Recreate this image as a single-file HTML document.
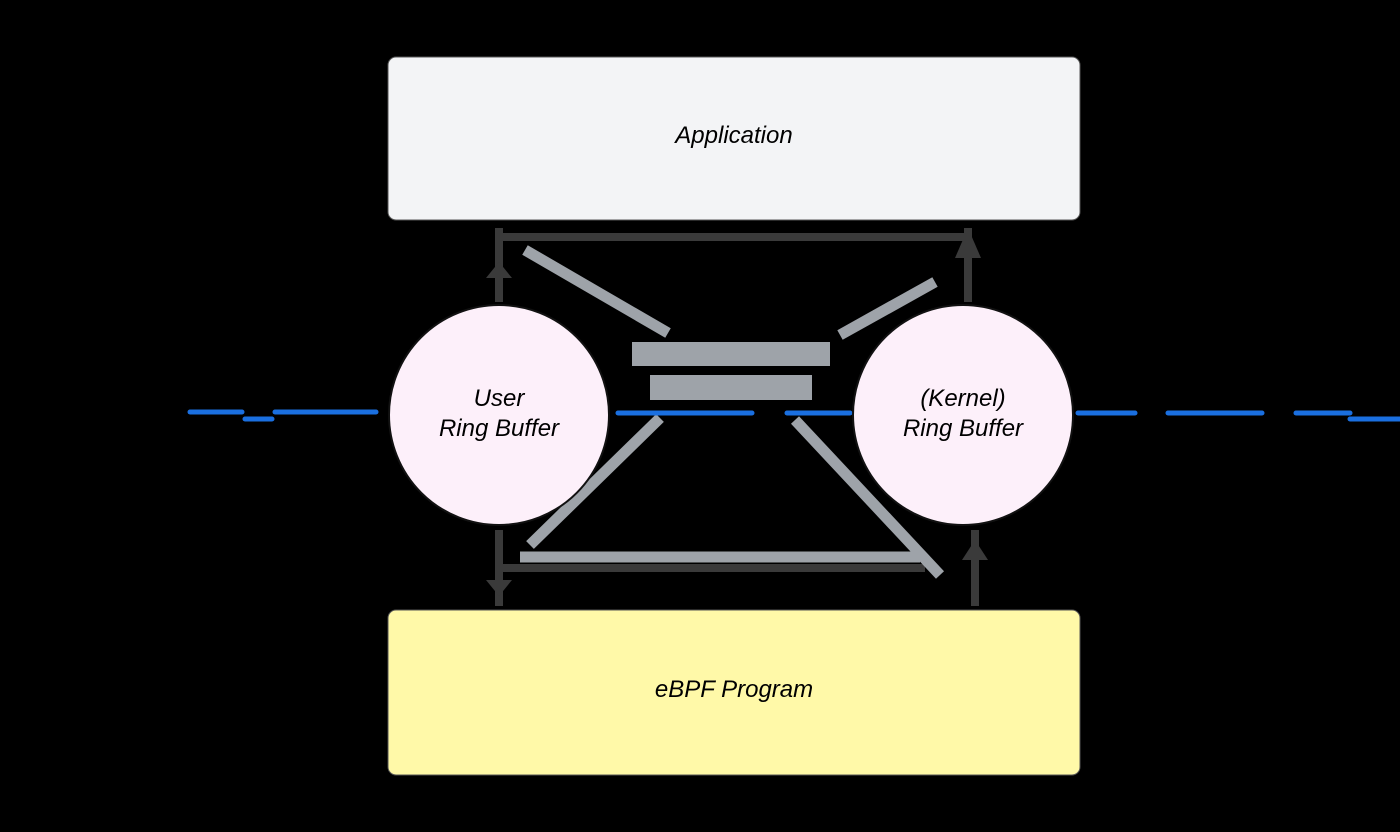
<!DOCTYPE html>
<html><head><meta charset="utf-8"><style>
html,body{margin:0;padding:0;background:#000;}
body{width:1400px;height:832px;overflow:hidden;position:relative;font-family:"Liberation Sans",sans-serif;}
</style></head><body>
<svg width="1400" height="832" viewBox="0 0 1400 832" xmlns="http://www.w3.org/2000/svg" style="position:absolute;left:0;top:0">
<rect width="1400" height="832" fill="#000"/>
<rect x="388" y="57" width="692" height="163" rx="8" fill="#f3f4f6" stroke="#555" stroke-width="1"/>
<rect x="388" y="610" width="692" height="165" rx="8" fill="#fff9a8" stroke="#555" stroke-width="1"/>
<text x="734" y="143" font-size="24" font-style="italic" text-anchor="middle" fill="#000">Application</text>
<text x="734" y="697" font-size="24" font-style="italic" text-anchor="middle" fill="#000">eBPF Program</text>
<g stroke="#3a3a3a" stroke-width="8" fill="none">
<line x1="500" y1="237" x2="968" y2="237"/>
<line x1="500" y1="568" x2="925" y2="568"/>
<line x1="499" y1="228" x2="499" y2="302"/>
<line x1="968" y1="228" x2="968" y2="302"/>
<line x1="499" y1="530" x2="499" y2="606"/>
<line x1="975" y1="530" x2="975" y2="606"/>
</g>
<g fill="#3a3a3a">
<polygon points="486,278 512,278 499,262"/>
<polygon points="955,258 981,258 968,228"/>
<polygon points="486,580 512,580 499,596"/>
<polygon points="962,560 988,560 975,540"/>
</g>
<g stroke="#9ea3a9" stroke-width="11" fill="none">
<line x1="525" y1="250" x2="668" y2="333"/>
<line x1="840" y1="335" x2="935" y2="282"/>
<line x1="660" y1="418" x2="530" y2="545"/>
<line x1="795" y1="420" x2="940" y2="575"/>
<line x1="520" y1="557" x2="920" y2="557"/>
</g>
<rect x="632" y="342" width="198" height="24" fill="#9ea3a9"/>
<rect x="650" y="375" width="162" height="25" fill="#9ea3a9"/>
<g stroke="#1a6fe0" stroke-width="5" fill="none" stroke-linecap="round">
<line x1="190" y1="412" x2="242" y2="412"/>
<line x1="245" y1="419" x2="272" y2="419"/>
<line x1="275" y1="412" x2="376" y2="412"/>
<line x1="618" y1="413" x2="752" y2="413"/>
<line x1="787" y1="413" x2="850" y2="413"/>
<line x1="1078" y1="413" x2="1135" y2="413"/>
<line x1="1168" y1="413" x2="1262" y2="413"/>
<line x1="1296" y1="413" x2="1350" y2="413"/>
<line x1="1350" y1="419" x2="1400" y2="419"/>
</g>
<circle cx="499" cy="415" r="110" fill="#fdf0fa" stroke="#111" stroke-width="2"/>
<circle cx="963" cy="415" r="110" fill="#fdf0fa" stroke="#111" stroke-width="2"/>
<text x="499" y="406" font-size="24" font-style="italic" text-anchor="middle" fill="#000">User</text>
<text x="499" y="436" font-size="24" font-style="italic" text-anchor="middle" fill="#000">Ring Buffer</text>
<text x="963" y="406" font-size="24" font-style="italic" text-anchor="middle" fill="#000">(Kernel)</text>
<text x="963" y="436" font-size="24" font-style="italic" text-anchor="middle" fill="#000">Ring Buffer</text>
</svg>
</body></html>
